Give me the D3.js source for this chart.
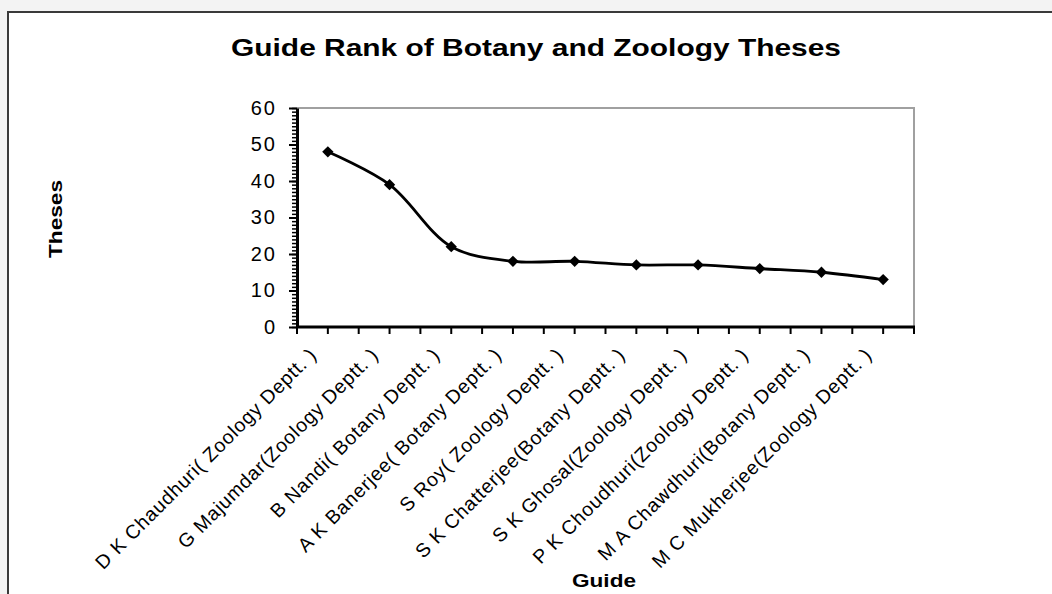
<!DOCTYPE html>
<html>
<head>
<meta charset="utf-8">
<script src="https://cdn.jsdelivr.net/npm/d3@7"></script>
<style>
body { margin: 0; background: #f3f3f3; }
svg { display: block; }
</style>
</head>
<body>
<svg id="chart" width="1052" height="594"></svg>
<script>
var guides = [
	"D K Chaudhuri( Zoology Deptt. )",
	"G Majumdar(Zoology  Deptt. )",
	"B Nandi( Botany Deptt. )",
	"A K Banerjee( Botany Deptt. )",
	"S Roy( Zoology Deptt. )",
	"S K Chatterjee(Botany Deptt. )",
	"S K Ghosal(Zoology Deptt. )",
	"P K Choudhuri(Zoology Deptt. )",
	"M A Chawdhuri(Botany Deptt. )",
	"M C Mukherjee(Zoology Deptt. )"
];
var theses = [48, 39, 22, 18, 18, 17, 17, 16, 15, 13];
var yTicks = [0, 10, 20, 30, 40, 50, 60];

var svg = d3.select("#chart");
var font = "Arial, 'Liberation Sans', sans-serif";

// chart area
svg.append("rect")
	.attr("x", 8).attr("y", 12)
	.attr("width", 1100).attr("height", 700)
	.style("fill", "white")
	.style("stroke", "#3a3a3a")
	.attr("stroke-width", 2);

var plotLeft = 297, plotRight = 914, plotTop = 108, plotBottom = 327;

var x = d3.scaleBand()
	.domain(guides)
	.range([plotLeft, plotRight]);

var y = d3.scaleLinear()
	.domain([0, 60])
	.range([plotBottom, plotTop]);

// plot frame (grey top/right)
svg.append("path")
	.attr("d", "M" + plotLeft + "," + plotTop + "H" + plotRight + "V" + plotBottom)
	.style("fill", "none")
	.style("stroke", "#a0a0a0")
	.attr("stroke-width", 2);

// y axis: minor ticks then major
var yMinor = svg.append("g")
	.attr("transform", "translate(" + plotLeft + ",0)")
	.call(d3.axisLeft(y).tickValues(d3.range(0, 61, 1)).tickSize(5).tickFormat(""));
yMinor.select(".domain").remove();
yMinor.selectAll("line").attr("stroke", "black").attr("stroke-width", 1.5);

var yAxis = svg.append("g")
	.attr("transform", "translate(" + plotLeft + ",0)")
	.call(d3.axisLeft(y).tickValues(yTicks).tickSize(8).tickSizeOuter(0).tickPadding(12));
yAxis.select(".domain").attr("stroke", "black").attr("stroke-width", 3);
yAxis.selectAll("line").attr("stroke", "black").attr("stroke-width", 2);
yAxis.selectAll("text")
	.style("font-family", font)
	.style("font-size", "20px")
	.style("letter-spacing", "2px")
	.style("fill", "black");

// x axis: ticks at category edges and centres
var halfTicks = d3.range(0, 21).map(function(i)
{
	return plotLeft + i * x.bandwidth() / 2;
});
svg.append("g")
	.selectAll("line")
	.data(halfTicks)
	.enter()
	.append("line")
	.attr("x1", function(d) { return d; })
	.attr("x2", function(d) { return d; })
	.attr("y1", plotBottom)
	.attr("y2", plotBottom + 7)
	.attr("stroke", "black")
	.attr("stroke-width", 2);

svg.append("line")
	.attr("x1", plotLeft - 1).attr("x2", plotRight + 1)
	.attr("y1", plotBottom).attr("y2", plotBottom)
	.attr("stroke", "black")
	.attr("stroke-width", 3);

svg.append("g")
	.selectAll("text")
	.data(guides)
	.enter()
	.append("text")
	.text(function(d) { return d; })
	.attr("transform", function(d)
	{
		var cx = x(d) + x.bandwidth() / 2;
		return "translate(" + (cx - 10) + "," + (plotBottom + 29) + ") rotate(-45)";
	})
	.attr("text-anchor", "end")
	.style("font-family", font)
	.style("font-size", "19.5px")
	.style("letter-spacing", "0.8px")
	.style("fill", "black");

// line
var line = d3.line()
	.x(function(d, i) { return x(guides[i]) + x.bandwidth() / 2; })
	.y(function(d) { return y(d); })
	.curve(d3.curveCatmullRom.alpha(0.5));

svg.append("path")
	.datum(theses)
	.attr("d", line)
	.style("fill", "none")
	.style("stroke", "black")
	.attr("stroke-width", 2.8);

svg.selectAll(".marker")
	.data(theses)
	.enter()
	.append("path")
	.attr("class", "marker")
	.attr("d", d3.symbol().type(d3.symbolSquare).size(64))
	.attr("transform", function(d, i)
	{
		return "translate(" + (x(guides[i]) + x.bandwidth() / 2) + "," + y(d) + ") rotate(45)";
	})
	.style("fill", "black");

// titles
svg.append("text")
	.text("Guide Rank of Botany and Zoology Theses")
	.attr("x", 536).attr("y", 56)
	.attr("text-anchor", "middle")
	.attr("textLength", 610)
	.attr("lengthAdjust", "spacingAndGlyphs")
	.style("font-family", font)
	.style("font-weight", "bold")
	.style("font-size", "24px")
	.style("fill", "black");

svg.append("text")
	.text("Theses")
	.attr("transform", "translate(62,219) rotate(-90)")
	.attr("text-anchor", "middle")
	.attr("textLength", 78)
	.attr("lengthAdjust", "spacingAndGlyphs")
	.style("font-family", font)
	.style("font-weight", "bold")
	.style("font-size", "19px")
	.style("fill", "black");

svg.append("text")
	.text("Guide")
	.attr("x", 604).attr("y", 587)
	.attr("text-anchor", "middle")
	.attr("textLength", 64)
	.attr("lengthAdjust", "spacingAndGlyphs")
	.style("font-family", font)
	.style("font-weight", "bold")
	.style("font-size", "19px")
	.style("fill", "black");
</script>
</body>
</html>
